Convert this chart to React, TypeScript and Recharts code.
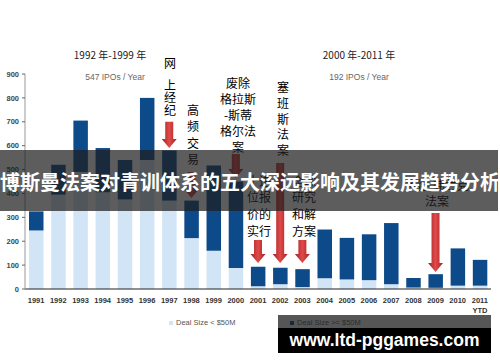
import { BarChart, Bar, XAxis, YAxis, ReferenceLine } from "recharts";

const years = [
  "1991", "1992", "1993", "1994", "1995", "1996", "1997", "1998", "1999", "2000", "2001",
  "2002", "2003", "2004", "2005", "2006", "2007", "2008", "2009", "2010", "2011",
];
// deal size < $50M
const smallDeals = [245, 395, 490, 405, 375, 540, 370, 213, 160, 88, 12, 20, 8, 45, 40, 37, 20, 6, 5, 14, 14];
// deal size >= $50M
const largeDeals = [80, 125, 215, 185, 165, 260, 210, 157, 357, 362, 81, 69, 75, 204, 174, 192, 256, 40, 57, 156, 108];
const yTicks = [0, 100, 200, 300, 400, 500, 600, 700, 800, 900];

// red arrows: which year they point at, value where they start and end
const arrowYears = ["1997", "1998", "2000", "2001", "2002", "2003", "2009"];
const arrowFrom = [700, 490, 565, 205, 527, 205, 318];
const arrowTo = [590, 381, 465, 109, 109, 109, 71];

const data = years.map((year, i) => ({
  year,
  small: smallDeals[i],
  large: largeDeals[i],
}));

const notes = [
  { lines: ["网"], x: 170, y: 62, lh: 13 },
  { lines: ["上", "经", "纪"], x: 170, y: 85, lh: 12.5 },
  { lines: ["高", "频", "交", "易"], x: 193, y: 110, lh: 16.5 },
  { lines: ["废除", "格拉斯", "-斯蒂", "格尔法", "案"], x: 238, y: 83, lh: 16 },
  { lines: ["塞", "班", "斯", "法", "案"], x: 283, y: 87, lh: 15.8 },
  { lines: ["十进", "位报", "价的", "实行"], x: 259, y: 181, lh: 16.7 },
  { lines: ["全球", "研究", "和解", "方案"], x: 304, y: 181, lh: 16.7 },
  { lines: ["多德-弗兰克", "法案"], x: 437, y: 185, lh: 15.5 },
];

const Arrow = (props: any) => {
  const { x1, y1, y2 } = props;
  const top = Math.min(y1, y2);
  const bot = Math.max(y1, y2);
  const sw = 4;
  const hw = 7.5;
  const head = 9;
  const pts = `${x1 - sw},${top} ${x1 + sw},${top} ${x1 + sw},${bot - head} ${x1 + hw},${bot - head} ${x1},${bot} ${x1 - hw},${bot - head} ${x1 - sw},${bot - head}`;
  const id = `ag${Math.round(x1)}`;
  return (
    <g>
      <defs>
        <linearGradient id={id} x1="0" y1="0" x2="1" y2="0">
          <stop offset="0%" stopColor="#a52222" />
          <stop offset="50%" stopColor="#e04a4a" />
          <stop offset="100%" stopColor="#a52222" />
        </linearGradient>
      </defs>
      <polygon points={pts} fill={`url(#${id})`} />
    </g>
  );
};

const XTick = ({ x, y, payload }: any) => (
  <g>
    <text x={x} y={y + 13.5} textAnchor="middle" fontSize={7.5} fontWeight="bold" fill="#333" fontFamily="Liberation Sans">
      {payload.value}
    </text>
    {payload.value === "2011" && (
      <text x={x} y={y + 24} textAnchor="middle" fontSize={7.5} fontWeight="bold" fill="#333" fontFamily="Liberation Sans">
        YTD
      </text>
    )}
  </g>
);

const cjk = '"Noto Sans CJK SC", sans-serif';

export default function App() {
  return (
    <div style={{ position: "absolute", left: 0, top: 0, width: 500, height: 362, background: "#fff", overflow: "hidden" }}>
      <BarChart
        width={500}
        height={362}
        data={data}
        margin={{ top: 74, right: 9, left: 0, bottom: 43 }}
        barSize={14.5}
      >
        <XAxis
          dataKey="year"
          height={30}
          interval={0}
          tickLine={false}
          tickSize={0}
          tickMargin={0}
          axisLine={{ stroke: "#222" }}
          tick={<XTick />}
        />
        <YAxis
          width={25}
          domain={[0, 900]}
          ticks={yTicks}
          tickSize={3}
          tickMargin={3}
          axisLine={{ stroke: "#999" }}
          tickLine={{ stroke: "#666" }}
          tick={{ fontSize: 7.5, fontWeight: "bold", fill: "#444", fontFamily: "Liberation Sans" }}
        />
        <Bar dataKey="small" stackId="a" fill="#d2e5f6" isAnimationActive={false} />
        <Bar dataKey="large" stackId="a" fill="#0c4a8a" isAnimationActive={false} />
        {arrowYears.map((yr, i) => (
          <ReferenceLine
            key={yr}
            segment={[
              { x: yr, y: arrowFrom[i] },
              { x: yr, y: arrowTo[i] },
            ]}
            shape={<Arrow />}
          />
        ))}
      </BarChart>

      {/* period headers */}
      <div style={{ position: "absolute", left: 60, width: 100, top: 47, textAlign: "center", fontFamily: cjk, fontSize: 10, color: "#222" }}>
        1992 年-1999 年
      </div>
      <div style={{ position: "absolute", left: 65, width: 100, top: 72, textAlign: "center", fontFamily: "Liberation Sans", fontSize: 8.5, color: "#666" }}>
        547 IPOs / Year
      </div>
      <div style={{ position: "absolute", left: 309, width: 100, top: 47, textAlign: "center", fontFamily: cjk, fontSize: 10, color: "#222" }}>
        2000 年-2011 年
      </div>
      <div style={{ position: "absolute", left: 309, width: 100, top: 72, textAlign: "center", fontFamily: "Liberation Sans", fontSize: 8.5, color: "#666" }}>
        192 IPOs / Year
      </div>

      {/* event notes */}
      {notes.map((n, i) => (
        <div
          key={i}
          style={{
            position: "absolute",
            left: n.x - 40,
            width: 80,
            top: n.y - n.lh / 2,
            textAlign: "center",
            fontFamily: cjk,
            fontSize: 12,
            lineHeight: `${n.lh}px`,
            color: "#000",
          }}
        >
          {n.lines.map((l, j) => (
            <div key={j}>{l}</div>
          ))}
        </div>
      ))}

      {/* legend */}
      <div style={{ position: "absolute", left: 169, top: 318, fontFamily: "Liberation Sans", fontSize: 7.5, color: "#555", display: "flex", alignItems: "center" }}>
        <span style={{ display: "inline-block", width: 4, height: 4, background: "#d2e5f6", marginRight: 3 }} />
        Deal Size &lt; $50M
      </div>
      <div style={{ position: "absolute", left: 290, top: 318, fontFamily: "Liberation Sans", fontSize: 7.5, color: "#555", display: "flex", alignItems: "center" }}>
        <span style={{ display: "inline-block", width: 4, height: 4, background: "#0c4a8a", marginRight: 3 }} />
        Deal Size &gt;= $50M
      </div>

      {/* title banner */}
      <div style={{ position: "absolute", left: 0, top: 150, width: 498, height: 61, background: "rgba(30,30,30,0.72)" }} />
      <div
        style={{
          position: "absolute",
          left: -2,
          top: 169,
          width: 504,
          textAlign: "center",
          fontFamily: cjk,
          fontWeight: "bold",
          fontSize: 20,
          lineHeight: "26px",
          color: "#fff",
          whiteSpace: "nowrap",
        }}
      >
        博斯曼法案对青训体系的五大深远影响及其发展趋势分析
      </div>

      {/* site mark */}
      <div style={{ position: "absolute", left: 278, top: 315, width: 213, height: 13, background: "rgba(30,30,30,0.75)" }} />
      <div
        style={{
          position: "absolute",
          left: 278,
          top: 328,
          width: 213,
          height: 25,
          background: "#000",
          color: "#fff",
          fontFamily: "Liberation Sans",
          fontWeight: "bold",
          fontSize: 17.5,
          lineHeight: "25px",
          textAlign: "center",
        }}
      >
        www.ltd-pggames.com
      </div>
    </div>
  );
}
